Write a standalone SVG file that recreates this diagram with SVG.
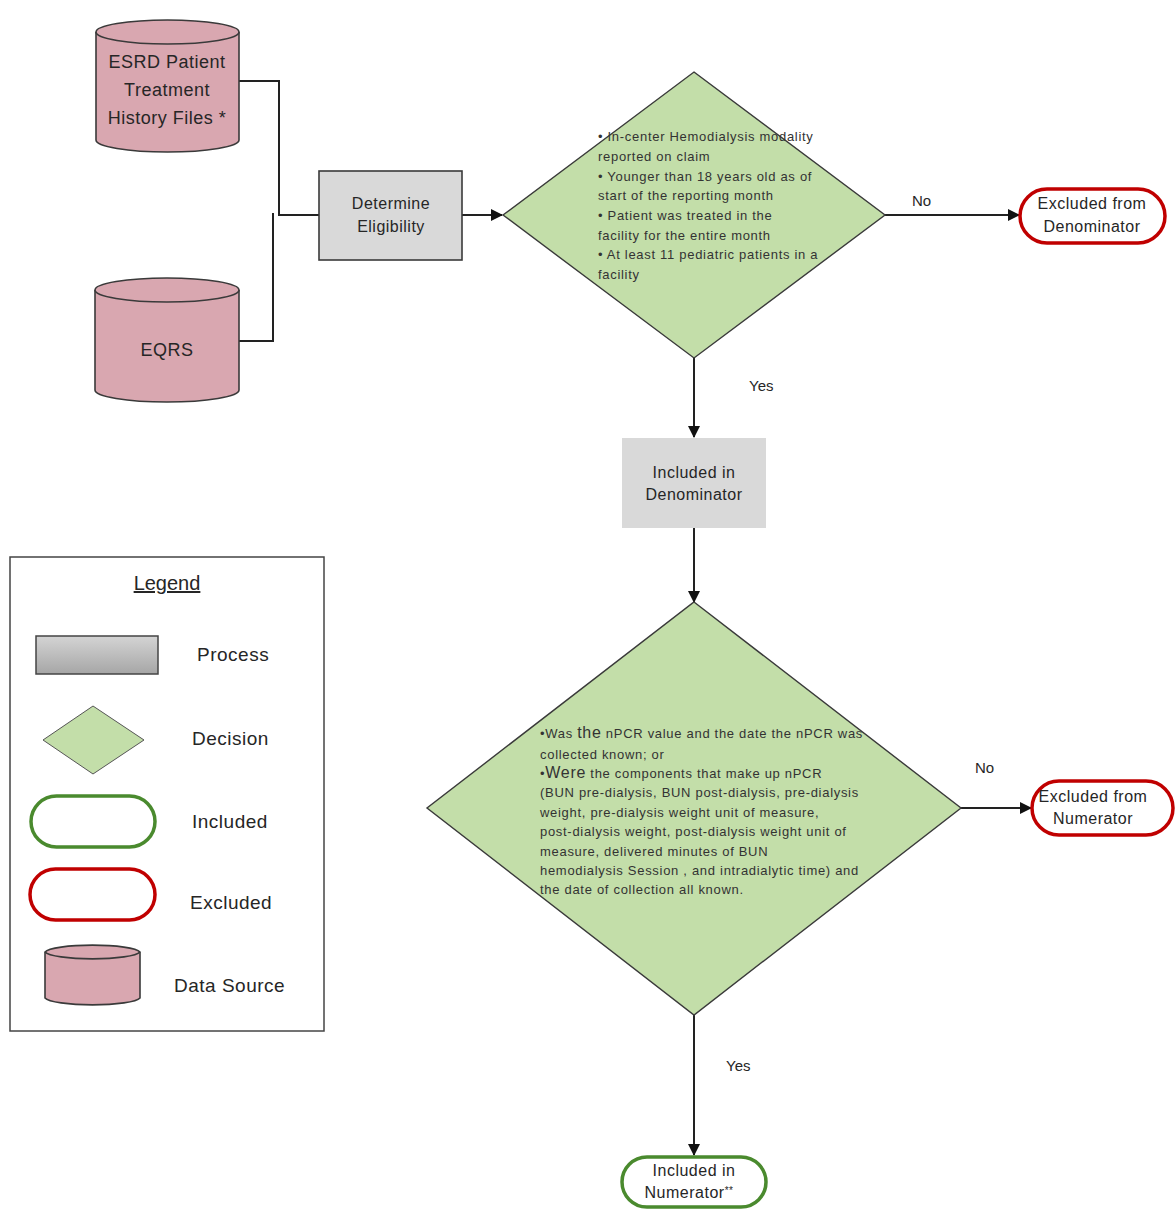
<svg xmlns="http://www.w3.org/2000/svg" width="1175" height="1210" viewBox="0 0 1175 1210">
<defs>
<style>
text{font-family:"Liberation Sans",Arial,sans-serif;fill:#262626}
.lbl{font-size:16px;text-anchor:middle;letter-spacing:0.5px}
.big{font-size:18px}
.sm{font-size:13px;fill:#333;letter-spacing:0.7px}
.yn{font-size:15px}
.leg{font-size:19px;letter-spacing:0.5px}
.conn{stroke:#222;stroke-width:2;fill:none}
.cyl{fill:#d9a7b0;stroke:#3a3a3a;stroke-width:1.6}
.proc{fill:#d9d9d9;stroke:#3a3a3a;stroke-width:1.6}
.dec{fill:#c3dea9;stroke:#3a3a3a;stroke-width:1.4}
.inc{fill:#fff;stroke:#4a8a2e;stroke-width:3.5}
.exc{fill:#fff;stroke:#c00000;stroke-width:3.5}
</style>
<marker id="arr" markerWidth="12" markerHeight="12" refX="11" refY="6" orient="auto" markerUnits="userSpaceOnUse">
<path d="M0,0 L12,6 L0,12 Z" fill="#111"/>
</marker>
<linearGradient id="pg" x1="0" y1="0" x2="0" y2="1">
<stop offset="0" stop-color="#d4d4d4"/>
<stop offset="1" stop-color="#a6a6a6"/>
</linearGradient>
</defs>
<rect width="1175" height="1210" fill="#fff"/>

<g id="connectors">
<polyline class="conn" points="239,81 279,81 279,215 319,215"/>
<polyline class="conn" points="239,341 273,341 273,213"/>
<line class="conn" x1="462" y1="215" x2="502" y2="215" marker-end="url(#arr)"/>
<line class="conn" x1="885" y1="215" x2="1019" y2="215" marker-end="url(#arr)"/>
<line class="conn" x1="694" y1="358" x2="694" y2="437" marker-end="url(#arr)"/>
<line class="conn" x1="694" y1="528" x2="694" y2="602" marker-end="url(#arr)"/>
<line class="conn" x1="961" y1="808" x2="1031" y2="808" marker-end="url(#arr)"/>
<line class="conn" x1="694" y1="1015" x2="694" y2="1155" marker-end="url(#arr)"/>
<text class="yn" x="912" y="206">No</text>
<text class="yn" x="749" y="391">Yes</text>
<text class="yn" x="975" y="773">No</text>
<text class="yn" x="726" y="1071">Yes</text>
</g>

<g id="esrd">
<path class="cyl" d="M96,32 A71.5,12 0 0 1 239,32 V140 A71.5,12 0 0 1 96,140 Z"/>
<path class="cyl" fill="none" d="M96,32 A71.5,12 0 0 0 239,32"/>
<text class="lbl big" x="167" y="68">ESRD Patient</text>
<text class="lbl big" x="167" y="96">Treatment</text>
<text class="lbl big" x="167" y="124">History Files *</text>
</g>

<g id="eqrs">
<path class="cyl" d="M95,290 A72,12 0 0 1 239,290 V390 A72,12 0 0 1 95,390 Z"/>
<path class="cyl" fill="none" d="M95,290 A72,12 0 0 0 239,290"/>
<text class="lbl big" x="167" y="356">EQRS</text>
</g>

<g id="determine">
<rect class="proc" x="319" y="171" width="143" height="89"/>
<text class="lbl" x="391" y="209">Determine</text>
<text class="lbl" x="391" y="232">Eligibility</text>
</g>

<g id="decision1">
<polygon class="dec" points="694,72 885,215 694,358 503,215"/>
<text class="sm" x="598" y="141">• In-center Hemodialysis modality</text>
<text class="sm" x="598" y="161">reported on claim</text>
<text class="sm" x="598" y="181">• Younger than 18 years old as of</text>
<text class="sm" x="598" y="200">start of the reporting month</text>
<text class="sm" x="598" y="220">• Patient was treated in the</text>
<text class="sm" x="598" y="240">facility for the entire month</text>
<text class="sm" x="598" y="259">• At least 11 pediatric patients in a</text>
<text class="sm" x="598" y="279">facility</text>
</g>

<g id="excl-denom">
<rect class="exc" x="1020" y="189" width="145" height="54" rx="27"/>
<text class="lbl" x="1092" y="209">Excluded from</text>
<text class="lbl" x="1092" y="232">Denominator</text>
</g>

<g id="incl-denom">
<rect x="622" y="438" width="144" height="90" fill="#d9d9d9"/>
<text class="lbl" x="694" y="478">Included in</text>
<text class="lbl" x="694" y="500">Denominator</text>
</g>

<g id="decision2">
<polygon class="dec" points="694,602 961,808 694,1015 427,808"/>
<text class="sm" x="540" y="738">•Was <tspan style="font-size:16px">the</tspan> nPCR value and the date the nPCR was</text>
<text class="sm" x="540" y="759">collected known; or</text>
<text class="sm" x="540" y="778">•<tspan style="font-size:16px">Were</tspan> the components that make up nPCR</text>
<text class="sm" x="540" y="797">(BUN pre-dialysis, BUN post-dialysis, pre-dialysis</text>
<text class="sm" x="540" y="817">weight, pre-dialysis weight unit of measure,</text>
<text class="sm" x="540" y="836">post-dialysis weight, post-dialysis weight unit of</text>
<text class="sm" x="540" y="856">measure, delivered minutes of BUN</text>
<text class="sm" x="540" y="875">hemodialysis Session , and intradialytic time) and</text>
<text class="sm" x="540" y="894">the date of collection all known.</text>
</g>

<g id="excl-num">
<rect class="exc" x="1032" y="781" width="141" height="54" rx="27"/>
<text class="lbl" x="1093" y="802">Excluded from</text>
<text class="lbl" x="1093" y="824">Numerator</text>
</g>

<g id="incl-num">
<rect class="inc" x="622" y="1157" width="144" height="50" rx="25"/>
<text class="lbl" x="694" y="1176">Included in</text>
<text class="lbl" x="689" y="1198">Numerator<tspan style="font-size:10px" dy="-4">**</tspan></text>
</g>

<g id="legend">
<rect x="10" y="557" width="314" height="474" fill="#fff" stroke="#444" stroke-width="1.5"/>
<text x="167" y="590" style="font-size:20px;text-anchor:middle;text-decoration:underline">Legend</text>
<rect x="36" y="636" width="122" height="38" fill="url(#pg)" stroke="#444" stroke-width="1.5"/>
<text class="leg" x="197" y="661">Process</text>
<polygon points="93,706 144,740 93,774 43,740" fill="#c3dea9" stroke="#555" stroke-width="1"/>
<text class="leg" x="192" y="745">Decision</text>
<rect class="inc" x="31" y="796" width="124" height="51" rx="25.5"/>
<text class="leg" x="192" y="828">Included</text>
<rect class="exc" x="30" y="869" width="125" height="51" rx="25.5"/>
<text class="leg" x="190" y="909">Excluded</text>
<path class="cyl" d="M45,952 A48,8 0 0 1 140,952 V998 A48,8 0 0 1 45,998 Z"/>
<path class="cyl" fill="none" d="M45,952 A48,8 0 0 0 140,952"/>
<text class="leg" x="174" y="992">Data Source</text>
</g>
</svg>
